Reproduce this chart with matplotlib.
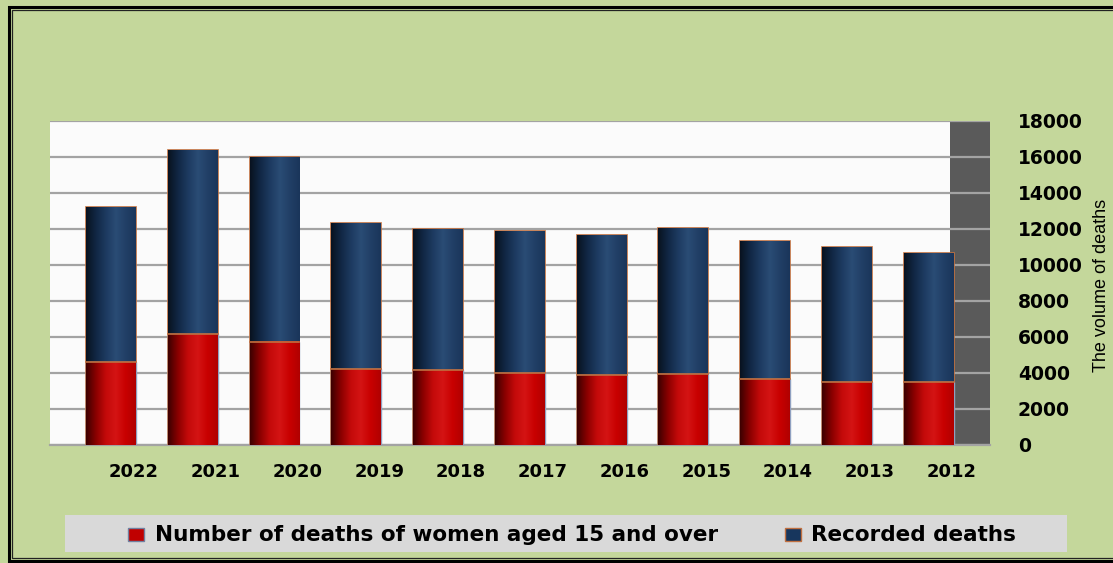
import numpy as np
import matplotlib.pyplot as plt
from matplotlib.colors import LinearSegmentedColormap
from matplotlib.lines import Line2D
from matplotlib.patches import Rectangle

years = ["2022", "2021", "2020", "2019", "2018", "2017", "2016", "2015", "2014", "2013", "2012"]
recorded = [13200, 16400, 16000, 12350, 11980, 11900, 11690, 12040, 11350, 10980, 10680]
women = [4600, 6170, 5750, 4200, 4170, 4020, 3890, 3940, 3670, 3480, 3500]
yticks = [0, 2000, 4000, 6000, 8000, 10000, 12000, 14000, 16000, 18000]

W, H = 1113, 563
BG = "#c4d79b"

red_cmap = LinearSegmentedColormap.from_list(
    "red", ["#3c0000", "#8a0000", "#c40a0a", "#d41414", "#c80000", "#b00000"])
blue_cmap = LinearSegmentedColormap.from_list(
    "blue", ["#08121f", "#112744", "#1d3a60", "#2a4c75", "#213f66", "#1a355a"])


def shade(ax, bars, cmap):
    grad = np.linspace(0, 1, 256).reshape(1, -1)
    for b in bars:
        x0, y0, w, h = b.get_x(), b.get_y(), b.get_width(), b.get_height()
        im = ax.imshow(grad, cmap=cmap, aspect="auto", extent=(x0, x0 + w, y0, y0 + h),
                       zorder=b.get_zorder(), interpolation="bilinear")
        im.set_clip_path(b)


def frame(fig, left, top, bottom, color, lw):
    # open on the right side: left, top and bottom edges only
    xs = [1.05, left / W, left / W, 1.05]
    ys = [1 - top / H, 1 - top / H, 1 - bottom / H, 1 - bottom / H]
    fig.add_artist(Line2D(xs, ys, transform=fig.transFigure, color=color, lw=lw,
                          solid_joinstyle="miter"))


def main():
    fig = plt.figure(figsize=(W / 100, H / 100), dpi=100, facecolor=BG)

    frame(fig, 8.5, 6.5, 561, "black", 2.2)
    frame(fig, 11.5, 10, 558, "#222222", 0.9)

    ax = fig.add_axes([50 / W, 1 - 445 / H, (990 - 50) / W, (445 - 121) / H])
    ax.set_facecolor("#fbfbfb")

    x = np.arange(len(years))
    xmin, xmax = -0.746, 10.75
    ax.set_xlim(xmin, xmax)
    ax.set_ylim(0, 18000)

    # grey side wall
    ax.add_patch(Rectangle((10.26, 0), xmax - 10.26, 18000, fc="#5a5a5a", ec="none", zorder=0.5))

    for v in yticks:
        ax.axhline(v, color="#a3a3a3", lw=1.6, zorder=1)

    width = 0.61
    bb = ax.bar(x, recorded, width, color="#1f3a60", edgecolor="#c07040", lw=1.2, zorder=3)
    shade(ax, bb, blue_cmap)
    br = ax.bar(x, women, width, color="#c00000", edgecolor="#8fa0c0", lw=1.0, zorder=4)
    shade(ax, br, red_cmap)
    for b in br:
        ax.plot([b.get_x(), b.get_x() + b.get_width()], [b.get_height()] * 2,
                color="#c07040", lw=1.2, zorder=5)

    ax.set_xticks(x + 0.28)
    ax.set_xticklabels(years, fontsize=13, fontweight="bold")
    ax.tick_params(axis="x", length=0, pad=13)

    ax.yaxis.tick_right()
    ax.set_yticks(yticks)
    ax.set_yticklabels([str(v) for v in yticks], fontsize=13.5, fontweight="bold")
    ax.tick_params(axis="y", length=0, pad=20)
    for s in ["top", "right", "left"]:
        ax.spines[s].set_visible(False)
    ax.spines["bottom"].set_color("#a3a3a3")
    ax.spines["bottom"].set_linewidth(1.6)

    fig.text(1101 / W, 1 - 285 / H, "The volume of deaths", rotation=90,
             ha="center", va="center", fontsize=13, family="Liberation Sans")

    # legend strip
    fig.patches.append(Rectangle((65 / W, 1 - 552 / H), (1067 - 65) / W, 37 / H,
                                 transform=fig.transFigure, fc="#d9d9d9", ec="none"))
    fig.patches.append(Rectangle((128 / W, 1 - 541 / H), 16 / W, 13 / H,
                                 transform=fig.transFigure, fc="#c00000", ec="#7080a0", lw=1))
    fig.text(155 / W, 1 - 535 / H, "Number of deaths of women aged 15 and over",
             ha="left", va="center", fontsize=15.5, fontweight="bold")
    fig.patches.append(Rectangle((785 / W, 1 - 541 / H), 16 / W, 13 / H,
                                 transform=fig.transFigure, fc="#17365d", ec="#c07040", lw=1))
    fig.text(811 / W, 1 - 535 / H, "Recorded deaths",
             ha="left", va="center", fontsize=15.5, fontweight="bold")

    fig.savefig("out.png", dpi=100, facecolor=BG)


if __name__ == "__main__":
    main()
